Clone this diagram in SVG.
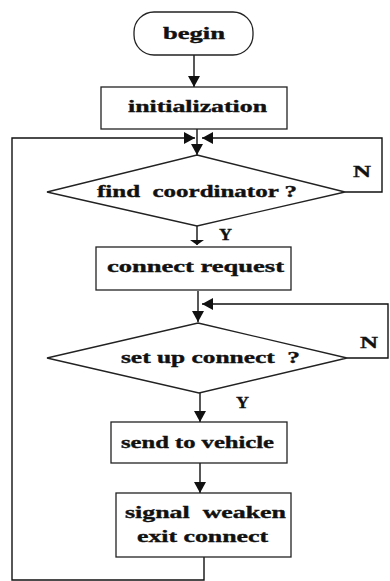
<svg xmlns="http://www.w3.org/2000/svg" width="390" height="581" viewBox="0 0 390 581">
<style>
.box{fill:#fff;stroke:#222;stroke-width:1.3}
.ln{fill:none;stroke:#111;stroke-width:1.4}
.t{font-family:"Liberation Serif","DejaVu Serif",serif;font-weight:bold;font-size:16px;fill:#111;stroke:#111;stroke-width:0.35}
.lb{font-size:17px}
</style>
<defs>
<marker id="arr" viewBox="0 0 10 10" refX="10" refY="5" markerWidth="11" markerHeight="12" markerUnits="userSpaceOnUse" orient="auto" preserveAspectRatio="none">
<path d="M0,0 L10,5 L0,10 z" fill="#111"/>
</marker>
<marker id="flat" viewBox="0 0 10 10" refX="10" refY="5" markerWidth="5" markerHeight="14" markerUnits="userSpaceOnUse" orient="auto" preserveAspectRatio="none">
<path d="M0,0 L10,5 L0,10 z" fill="#111"/>
</marker>
</defs>
<rect width="390" height="581" fill="#fff"/>
<g id="connectors">
<line class="ln" x1="194" y1="55" x2="194" y2="87" marker-end="url(#arr)"/>
<line class="ln" x1="197" y1="129" x2="197" y2="155" marker-end="url(#arr)"/>
<polyline class="ln" points="204,557 204,580 12,580 12,138 195,138" marker-end="url(#arr)"/>
<polyline class="ln" points="345,192 382,192 382,138 202,138" marker-end="url(#arr)"/>
<line class="ln" x1="197" y1="226" x2="197" y2="245" marker-end="url(#flat)"/>
<line class="ln" x1="198" y1="291" x2="198" y2="322" marker-end="url(#arr)"/>
<polyline class="ln" points="347,358 388,358 388,304 202,304" marker-end="url(#arr)"/>
<line class="ln" x1="200" y1="393" x2="200" y2="422" marker-end="url(#arr)"/>
<line class="ln" x1="200" y1="463" x2="200" y2="493" marker-end="url(#arr)"/>
</g>
<g id="begin">
<rect class="box" x="134" y="12" width="119" height="43" rx="20" ry="20"/>
<text class="t" x="163" y="39" textLength="62" lengthAdjust="spacingAndGlyphs">begin</text>
</g>
<g id="initialization">
<rect class="box" x="101" y="87" width="186" height="42"/>
<text class="t" x="128" y="112" textLength="139" lengthAdjust="spacingAndGlyphs">initialization</text>
</g>
<g id="find-coordinator">
<polygon class="box" points="197,155 345,192 197,226 47,192"/>
<text class="t" x="97" y="197" textLength="200" lengthAdjust="spacingAndGlyphs" xml:space="preserve">find  coordinator ?</text>
<text class="t lb" x="353" y="177" textLength="18" lengthAdjust="spacingAndGlyphs">N</text>
<text class="t lb" x="219" y="240" textLength="13" lengthAdjust="spacingAndGlyphs">Y</text>
</g>
<g id="connect-request">
<rect class="box" x="96" y="247" width="195" height="43"/>
<text class="t" x="107" y="272" textLength="177" lengthAdjust="spacingAndGlyphs">connect request</text>
</g>
<g id="set-up-connect">
<polygon class="box" points="198,323 347,358 199,393 47,358"/>
<text class="t" x="121" y="363" textLength="179" lengthAdjust="spacingAndGlyphs" xml:space="preserve">set up connect  ?</text>
<text class="t lb" x="360" y="348" textLength="18" lengthAdjust="spacingAndGlyphs">N</text>
<text class="t lb" x="236" y="408" textLength="13" lengthAdjust="spacingAndGlyphs">Y</text>
</g>
<g id="send-to-vehicle">
<rect class="box" x="111" y="422" width="176" height="41"/>
<text class="t" x="121" y="448" textLength="153" lengthAdjust="spacingAndGlyphs">send to vehicle</text>
</g>
<g id="signal-weaken">
<rect class="box" x="116" y="493" width="175" height="64"/>
<text class="t" x="125" y="518" textLength="161" lengthAdjust="spacingAndGlyphs" xml:space="preserve">signal  weaken</text>
<text class="t" x="137" y="542" textLength="131" lengthAdjust="spacingAndGlyphs">exit connect</text>
</g>
</svg>
